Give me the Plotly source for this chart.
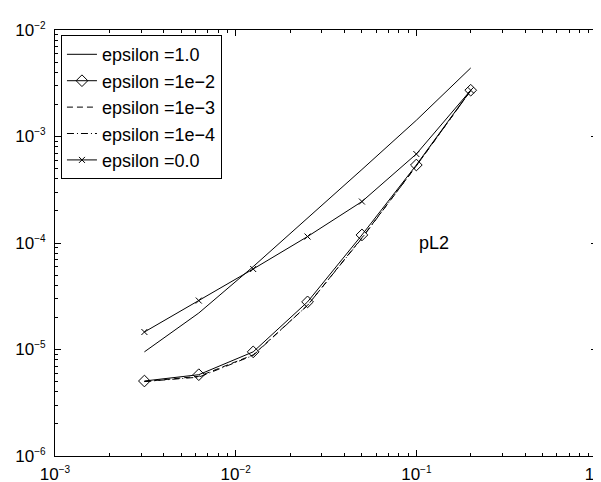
import plotly.graph_objects as go

h = [0.003125, 0.00625, 0.0125, 0.025, 0.05, 0.1, 0.2]

eps_1_0 = [9.5e-6, 2.2e-5, 6.0e-5, 1.7e-4, 4.9e-4, 1.42e-3, 4.4e-3]
eps_1e_2 = [5.06e-6, 5.8e-6, 9.5e-6, 2.8e-5, 1.19e-4, 5.4e-4, 2.72e-3]
eps_1e_3 = [5.0e-6, 5.6e-6, 8.9e-6, 2.6e-5, 1.12e-4, 5.3e-4, 2.7e-3]
eps_1e_4 = [5.0e-6, 5.5e-6, 8.8e-6, 2.6e-5, 1.11e-4, 5.3e-4, 2.7e-3]
eps_0_0 = [1.46e-5, 2.88e-5, 5.7e-5, 1.15e-4, 2.45e-4, 6.85e-4, 2.72e-3]

names = ["epsilon =1.0", "epsilon =1e\u22122", "epsilon =1e\u22123", "epsilon =1e\u22124", "epsilon =0.0"]

x_tick_vals = [1e-3, 1e-2, 1e-1, 1e0]
x_tick_exps = ["\u22123", "\u22122", "\u22121", "0"]
y_tick_vals = [1e-6, 1e-5, 1e-4, 1e-3, 1e-2]
y_tick_exps = ["\u22126", "\u22125", "\u22124", "\u22123", "\u22122"]

FONT = "Liberation Sans, Arial, Helvetica, sans-serif"


def power_labels(exps):
    return ["10<sup><span style='font-size:10px'>%s</span></sup>" % e for e in exps]


def minor_vals(lo, hi):
    vals = []
    for d in range(lo, hi):
        for k in range(2, 10):
            vals.append(k * 10.0 ** d)
    return vals


fig = go.Figure()
fig.add_trace(go.Scatter(x=h, y=eps_1_0, name=names[0], mode="lines",
                         line=dict(color="black", width=1)))
fig.add_trace(go.Scatter(x=h, y=eps_1e_2, name=names[1], mode="lines+markers",
                         line=dict(color="black", width=1),
                         marker=dict(symbol="diamond-open", size=9, color="black",
                                     line=dict(width=1, color="black"))))
fig.add_trace(go.Scatter(x=h, y=eps_1e_3, name=names[2], mode="lines",
                         line=dict(color="black", width=1, dash="6px,4px")))
fig.add_trace(go.Scatter(x=h, y=eps_1e_4, name=names[3], mode="lines",
                         line=dict(color="black", width=1, dash="7px,3px,1px,3px")))
fig.add_trace(go.Scatter(x=h, y=eps_0_0, name=names[4], mode="lines+markers",
                         line=dict(color="black", width=1),
                         marker=dict(symbol="x-thin-open", size=6, color="black",
                                     line=dict(width=1, color="black"))))

axis_common = dict(
    type="log", showgrid=False, zeroline=False, automargin=False,
    showline=True, linecolor="black", linewidth=1, mirror="ticks",
    ticks="inside", ticklen=6, tickcolor="black", tickwidth=1,
    tickmode="array", ticklabeloverflow="allow",
    tickfont=dict(family=FONT, size=17, color="black"),
)

fig.update_xaxes(range=[-3, 0], tickvals=x_tick_vals, ticktext=power_labels(x_tick_exps),
                 ticklabelstandoff=3,
                 minor=dict(ticks="inside", ticklen=3, tickcolor="black", showgrid=False,
                            tickvals=minor_vals(-3, 0)),
                 **axis_common)
fig.update_yaxes(range=[-6, -2], tickvals=y_tick_vals, ticktext=power_labels(y_tick_exps),
                 ticklabelstandoff=5,
                 minor=dict(ticks="inside", ticklen=3, tickcolor="black", showgrid=False,
                            tickvals=minor_vals(-6, -2)),
                 **axis_common)

fig.add_annotation(x=-0.9, y=-4.0, xref="x", yref="y", text="pL2", showarrow=False,
                   font=dict(family=FONT, size=18, color="black"))

fig.update_layout(
    width=601, height=482,
    margin=dict(l=47, r=12, t=22, b=34),
    paper_bgcolor="white", plot_bgcolor="white",
    font=dict(family=FONT, size=16, color="black"),
    showlegend=True,
    legend=dict(x=0.011, y=0.988, xanchor="left", yanchor="top",
                bgcolor="white", bordercolor="black", borderwidth=1,
                font=dict(family=FONT, size=18, color="black"),
                tracegroupgap=0, itemwidth=30),
)

fig.write_html("out.html", config={"displayModeBar": False})
